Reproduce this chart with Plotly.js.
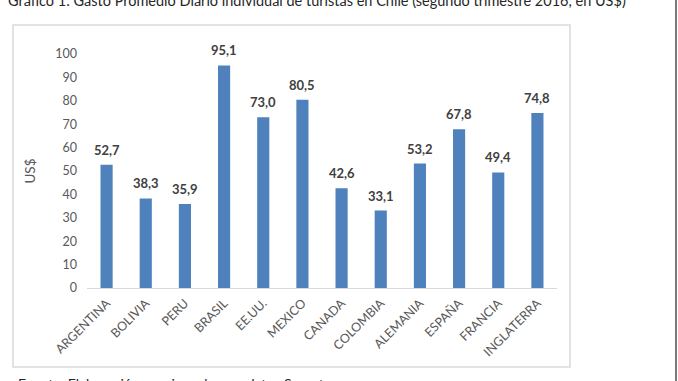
<!DOCTYPE html>
<html>
<head>
<meta charset="utf-8">
<script src="https://cdn.plot.ly/plotly-3.0.1.min.js"></script>
<style>html,body{margin:0;padding:0;background:#fff;}#chart{width:678px;height:381px;}</style>
</head>
<body>
<div id="chart"></div>
<script>
const categories = ["ARGENTINA","BOLIVIA","PERU","BRASIL","EE.UU.","MEXICO","CANADA","COLOMBIA","ALEMANIA","ESPAÑA","FRANCIA","INGLATERRA"];
const gasto = [52.7, 38.3, 35.9, 95.1, 73.0, 80.5, 42.6, 33.1, 53.2, 67.8, 49.4, 74.8];
const yTicks = [0,10,20,30,40,50,60,70,80,90,100];
const titleText = "Gráfico 1: Gasto Promedio Diario individual de turistas en Chile (segundo trimestre 2016, en US$)";
const sourceText = "Fuente: Elaboración propia en base a datos Sernatur";

const W = 678, H = 381;
const L = 87, R = 557, T = 54, B = 288;
const px = x => (x - L) / (R - L);
const py = y => (B - y) / (B - T);
const FONT = "Lato, 'Open Sans', sans-serif";

const trace = {
  type: "bar",
  x: categories,
  y: gasto,
  marker: {color: "#4f81bd"},
  hoverinfo: "none"
};

const labels = categories.map((c, i) => ({
  x: c, y: gasto[i], xref: "x", yref: "y",
  text: "<b>" + gasto[i].toFixed(1).replace(".", ",") + "</b>",
  showarrow: false, yanchor: "bottom", yshift: 5,
  font: {family: FONT, size: 13, color: "#404040"}
}));

const layout = {
  width: W, height: H,
  margin: {l: L, r: W - R, t: T, b: H - B, pad: 0},
  paper_bgcolor: "#fff", plot_bgcolor: "#fff",
  showlegend: false,
  bargap: 0.69,
  separators: ",.",
  font: {family: FONT, color: "#595959"},
  xaxis: {
    type: "category",
    tickangle: -45,
    tickfont: {family: FONT, size: 12.5, color: "#595959"},
    ticklabelstandoff: 2,
    showline: true, linecolor: "#d9d9d9", linewidth: 1,
    ticks: "", showgrid: false, zeroline: false, fixedrange: true
  },
  yaxis: {
    range: [0, 100],
    tickvals: yTicks,
    ticktext: yTicks.map(String),
    tickfont: {family: FONT, size: 12.5, color: "#595959"},
    ticklabelstandoff: 9,
    showgrid: false, zeroline: false, showline: false, ticks: "",
    title: {text: "US$", font: {family: FONT, size: 13.5, color: "#595959"}, standoff: 16},
    fixedrange: true
  },
  shapes: [
    {type: "rect", xref: "paper", yref: "paper", x0: px(13), x1: px(570), y0: py(25), y1: py(367),
     line: {color: "#d9d9d9", width: 1.5}, fillcolor: "rgba(0,0,0,0)", layer: "below"},
    {type: "line", xref: "paper", yref: "paper", x0: px(676), x1: px(676), y0: py(-2), y1: py(383),
     line: {color: "#7a7a7a", width: 2}}
  ],
  annotations: labels.concat([
    {xref: "paper", yref: "paper", x: px(6), y: py(1), xanchor: "left", yanchor: "middle",
     text: titleText, showarrow: false, font: {family: FONT, size: 14.5, color: "#262626"}},
    {xref: "paper", yref: "paper", x: px(16), y: py(383), xanchor: "left", yanchor: "middle",
     text: sourceText, showarrow: false, font: {family: FONT, size: 14, color: "#262626"}}
  ])
};

Plotly.newPlot("chart", [trace], layout, {displayModeBar: false, staticPlot: true});
</script>
</body>
</html>
